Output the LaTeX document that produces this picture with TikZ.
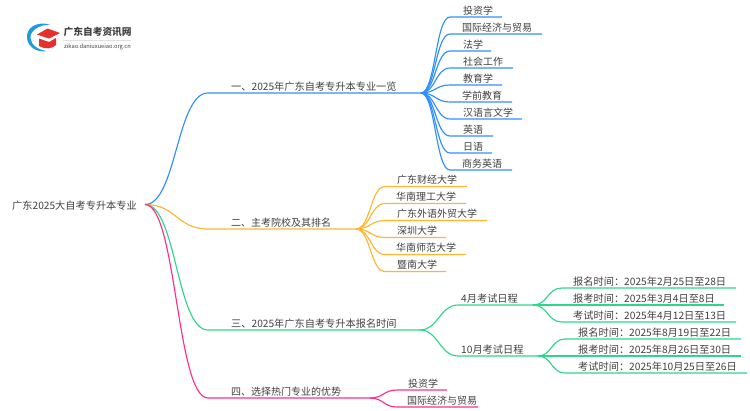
\documentclass[tikz,border=0pt]{standalone}
\usepackage{fontspec}
\setmainfont{Noto Sans CJK SC}
\definecolor{cblue}{HTML}{2F8FFF}
\definecolor{corange}{HTML}{FFB52E}
\definecolor{cgreen}{HTML}{2ED68A}
\definecolor{cpink}{HTML}{FF2E8C}
\definecolor{ctext}{HTML}{404040}
\definecolor{clogo}{HTML}{E5302C}
\definecolor{clogob}{HTML}{1E9BE0}
\tikzset{
 lbl/.style={anchor=base west,inner sep=0pt,font=\fontsize{10}{10}\selectfont,text=ctext},
 lbln/.style={lbl,font=\fontsize{10.2}{10}\selectfont},
 wire/.style={line width=1.15pt},
}
\begin{document}
\begin{tikzpicture}[x=1pt,y=-1pt]
\useasboundingbox (0,0) rectangle (750,410);
% logo
\fill[clogob] (50,24.5) .. controls (36,21) and (26,28) .. (27,38) .. controls (28,47) and (37,53) .. (47,51) .. controls (38,50) and (31,45) .. (30.5,38) .. controls (30,31) and (38,25) .. (50,24.5) -- cycle;
\fill[clogo] (37,34.5) -- (47.5,28.5) -- (60,33) -- (49,38.5) -- cycle;
\fill[clogo] (39,38.5) -- (49,42) -- (56,38) -- (56,45) .. controls (52,49) and (45,49.5) .. (39,46) -- cycle;
\node[lbl,font=\fontsize{9.7}{10}\selectfont\bfseries] (logot) at (63.5,35.5) {广东自考资讯网};
\draw[black!12,line width=.4pt] (63,40.5) -- (131,40.5);
\node[lbl,font=\fontsize{5.7}{5}\selectfont] (logos) at (64,48.5) {zikao.daniuxueiao.org.cn};
% root
\node[lbln] (root) at (12,209) {广东2025大自考专升本专业};
\coordinate (r) at (145,204.5);
% branches
\coordinate (h1) at (421,93);
\coordinate (h2) at (356,229);
\coordinate (h3) at (420,330);
\coordinate (h4) at (370,398);
\draw[wire,cblue] (r) .. controls (176.5,204.5) and (176.5,93) .. (208,93) -- (h1);
\draw[wire,corange] (r) .. controls (176.5,204.5) and (176.5,229) .. (208,229) -- (h2);
\draw[wire,cgreen] (r) .. controls (176.5,204.5) and (176.5,330) .. (208,330) -- (h3);
\draw[wire,cpink] (r) .. controls (176.5,204.5) and (176.5,398) .. (208,398) -- (h4);
\node[lbln] (b1) at (231,90.5) {一、2025年广东自考专升本专业一览};
\node[lbl] (b2) at (231,226.5) {二、主考院校及其排名};
\node[lbln] (b3) at (231,327.5) {三、2025年广东自考专升本报名时间};
\node[lbl] (b4) at (231,395.5) {四、选择热门专业的优势};
% blue leaves
\foreach \y/\e/\x/\t in {17/502/463/投资学,34/542/462/国际经济与贸易,51/491/463/法学,68/513/463/社会工作,85/502/463/教育学,102/512/462/学前教育,119/522/463/汉语言文学,136/493/463/英语,153/492/463/日语,170/512/462/商务英语}{
 \coordinate (s) at (450,\y);\coordinate (e) at (\e,\y);
 \draw[wire,cblue] (h1) .. controls (435.5,93) and (435.5,\y) .. (s) -- (e);
 \node[lbl] at (\x,\y-3) {\t};
}
% orange leaves
\foreach \y/\e/\x/\t in {186.5/467/397/广东财经大学,203.5/466/396/华南理工大学,220.5/487/397/广东外语外贸大学,237.5/446/397/深圳大学,254.5/466/396/华南师范大学,271.5/446/397/暨南大学}{
 \coordinate (s) at (385,\y);\coordinate (e) at (\e,\y);
 \draw[wire,corange] (h2) .. controls (370.5,229) and (370.5,\y) .. (s) -- (e);
 \node[lbl] at (\x,\y-3) {\t};
}
% green mid
\coordinate (g1) at (533,305);\coordinate (g2) at (538,356);
\draw[wire,cgreen] (h3) .. controls (438,330) and (440,305) .. (458,305) -- (g1);
\draw[wire,cgreen] (h3) .. controls (438,330) and (440,356) .. (458,356) -- (g2);
\node[lbln] (m1) at (461,302.5) {4月考试日程};
\node[lbln] (m2) at (461,353.5) {10月考试日程};
\foreach \y/\e/\t in {288/736/报名时间：2025年2月25日至28日,305/724/报考时间：2025年3月4日至8日,322/736/考试时间：2025年4月12日至13日}{
 \coordinate (s) at (562,\y);\coordinate (e) at (\e,\y);
 \draw[wire,cgreen] (g1) .. controls (547.5,305) and (547.5,\y) .. (s) -- (e);
 \node[lbln] at (573,\y-3) {\t};
}
\foreach \y/\e/\t in {339/741/报名时间：2025年8月19日至22日,356/741/报考时间：2025年8月26日至30日,373/747/考试时间：2025年10月25日至26日}{
 \coordinate (s) at (565,\y);\coordinate (e) at (\e,\y);
 \draw[wire,cgreen] (g2) .. controls (551.5,356) and (551.5,\y) .. (s) -- (e);
 \node[lbln] at (578,\y-3) {\t};
}
% pink leaves
\foreach \y/\e/\x/\t in {390/447/408/投资学,407/478/407/国际经济与贸易}{
 \coordinate (s) at (397,\y);\coordinate (e) at (\e,\y);
 \draw[wire,cpink] (h4) .. controls (383.5,398) and (383.5,\y) .. (s) -- (e);
 \node[lbl] at (\x,\y-3) {\t};
}
\end{tikzpicture}
\end{document}
